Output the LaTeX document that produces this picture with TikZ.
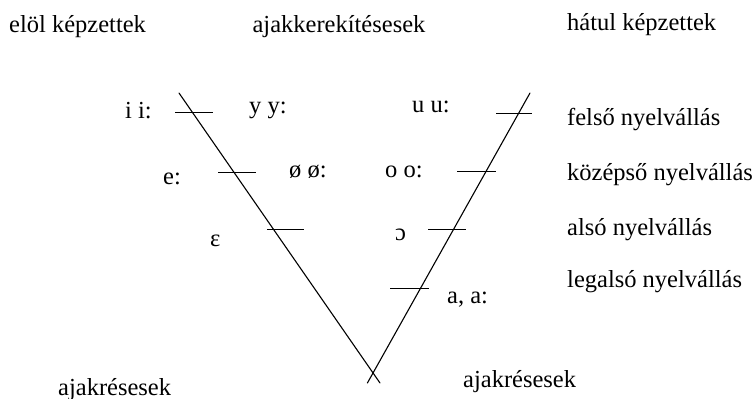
\documentclass[tikz,border=0pt]{standalone}
\usepackage{fontspec}
\setmainfont{Liberation Serif}
\tikzset{
  lbl/.style={anchor=base west, inner sep=0pt, font=\fontsize{24.5}{29}\selectfont},
  vline/.style={line width=1.1pt, line cap=round},
  notch/.style={line width=0.9pt},
}
\begin{document}
\begin{tikzpicture}[x=1pt, y=-1pt]
    \useasboundingbox (0,0) rectangle (753,399);
    % Headings
    \node[lbl] (front) at (9,32) {elöl képzettek};
    \node[lbl, anchor=base] (round) at (339,32) {ajakkerekítésesek};
    \node[lbl] (back) at (567,30) {hátul képzettek};

    % The V
    \coordinate (ltop) at (179,93);
    \coordinate (lend) at (380,383);
    \coordinate (rtop) at (530,93);
    \coordinate (rend) at (367.4,383);
    \draw[vline] (ltop) -- (lend);
    \draw[vline] (rtop) -- (rend);

    % Marks on the left side
    \draw[notch] (175,112) -- (213,112);
    \draw[notch] (218,172) -- (256,172);
    \draw[notch] (267,229) -- (304,229);
    % Marks on the right side
    \draw[notch] (496,113) -- (532,113);
    \draw[notch] (457,171) -- (496,171);
    \draw[notch] (428,229) -- (466,229);
    \draw[notch] (390,288) -- (429,288);

    % Vowels
    \node[lbl] (ii) at (125,118) {i i:};
    \node[lbl] (yy) at (249,113) {y y:};
    \node[lbl] (uu) at (412,112) {u u:};
    \node[lbl] (ee) at (163,184) {e:};
    \node[lbl] (oe) at (289,177) {ø ø:};
    \node[lbl] (oo) at (385,177) {o o:};
    \node[lbl] (eps) at (210,246) {ɛ};
    \node[lbl] (opo) at (395,240) {ɔ};
    \node[lbl] (aa) at (447,303) {a, a:};

    % Tongue heights
    \node[lbl] (high) at (567,125) {felső nyelvállás};
    \node[lbl] (mid) at (567,180) {középső nyelvállás};
    \node[lbl] (low) at (567,235) {alsó nyelvállás};
    \node[lbl] (lowest) at (567,287) {legalsó nyelvállás};

    % Spread lips
    \node[lbl] (sprl) at (58,395) {ajakrésesek};
    \node[lbl] (sprr) at (463,387) {ajakrésesek};
\end{tikzpicture}
\end{document}
